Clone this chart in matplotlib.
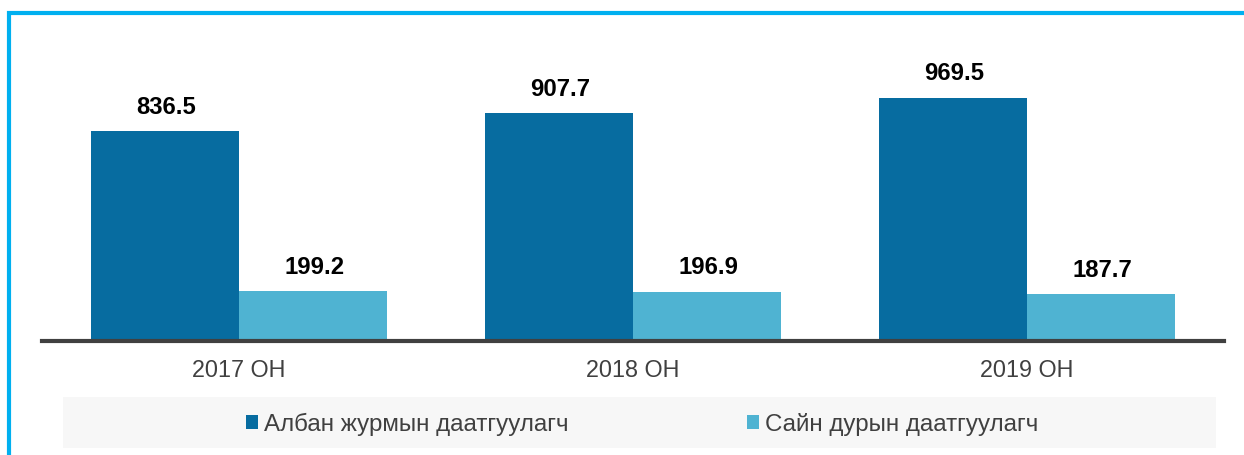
import numpy as np
import matplotlib
matplotlib.use("Agg")
import matplotlib.pyplot as plt
from matplotlib.patches import Rectangle
from matplotlib.lines import Line2D

plt.rcParams['font.family'] = ['Liberation Sans', 'DejaVu Sans']

# === Data ===
years = ['2017 ОН', '2018 ОН', '2019 ОН']
series_names = ['Албан журмын даатгуулагч', 'Сайн дурын даатгуулагч']
mandatory = [836.5, 907.7, 969.5]
voluntary = [199.2, 196.9, 187.7]

dark = '#076CA0'
light = '#4FB3D2'
grey_txt = '#404040'

W, H = 1244, 455
fig = plt.figure(figsize=(W / 100, H / 100), dpi=100)

# axes placed by pixel box: x 42..1224, baseline y=341, top y=65
ax = fig.add_axes([42 / W, 1 - 341 / H, (1224 - 42) / W, (341 - 65) / H])

x = np.arange(len(years))
bw = 0.3756
b1 = ax.bar(x - bw / 2, mandatory, bw, color=dark, label=series_names[0])
b2 = ax.bar(x + bw / 2, voluntary, bw, color=light, label=series_names[1])

for bars in (b1, b2):
    for rect in bars:
        ax.annotate(f'{rect.get_height():.1f}',
                    (rect.get_x() + rect.get_width() / 2, rect.get_height()),
                    xytext=(1, 12.5), textcoords='offset points',
                    ha='center', va='baseline', fontsize=17.2,
                    fontweight='bold', color='black')

ax.set_xlim(-0.5, 2.5)
ax.set_ylim(0, 1100)
ax.set_xticks(x)
ax.set_xticklabels(years, fontsize=16.8, color=grey_txt)
ax.tick_params(axis='x', length=0, pad=13)
ax.set_yticks([])
for s in ['top', 'left', 'right']:
    ax.spines[s].set_visible(False)
ax.spines['bottom'].set_color(grey_txt)
ax.spines['bottom'].set_linewidth(3)

# legend background strip
fig.patches.append(Rectangle((63 / W, 1 - 448 / H), (1216 - 63) / W, 51 / H,
                             transform=fig.transFigure, facecolor='#F7F7F7',
                             edgecolor='none', zorder=0))
leg = fig.legend(handles=[b1, b2], loc='center', bbox_to_anchor=(642 / W, 1 - 424 / H),
                 ncol=2, frameon=False, fontsize=17.4, handlelength=0.5,
                 handleheight=0.5, handletextpad=0.25, columnspacing=7.4)
for t in leg.get_texts():
    t.set_color(grey_txt)

# cyan frame on top and left
cyan = '#00B0F0'
fig.add_artist(Line2D([9 / W, 9 / W, 1], [0, 1 - 12.5 / H, 1 - 12.5 / H],
                      transform=fig.transFigure, color=cyan, linewidth=3,
                      solid_joinstyle='miter'))

fig.savefig('out.png', dpi=100)
